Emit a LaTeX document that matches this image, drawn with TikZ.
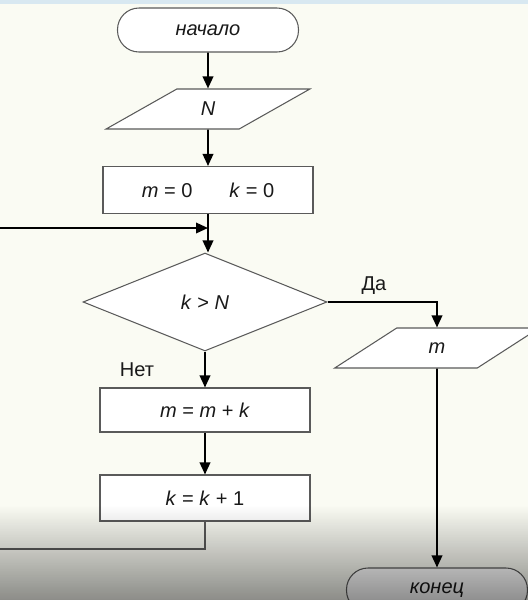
\documentclass[tikz,border=0pt]{standalone}
\usepackage{fontspec}
\setmainfont{Liberation Sans}
\usetikzlibrary{shapes.geometric,arrows.meta,fadings}
\definecolor{bgivory}{RGB}{250,251,243}
\definecolor{stripblue}{RGB}{216,232,241}
\definecolor{edgegray}{RGB}{90,90,90}
\tikzfading[name=fadebottom, top color=transparent!100, bottom color=transparent!0]
\begin{document}
\begin{tikzpicture}[x=0.02cm,y=-0.02cm,
    font=\fontsize{11.4}{13.5}\selectfont,
    fig/.style={draw=edgegray,fill=white,line width=.6pt,inner sep=0pt,text=black!90},
    terminal/.style={fig,rectangle,rounded corners=0.43cm,minimum width=3.62cm,minimum height=0.88cm},
    io/.style={fig,trapezium,trapezium left angle=40,trapezium right angle=140,trapezium stretches=true,minimum width=4.08cm,minimum height=0.8cm},
    block/.style={fig,rectangle,minimum width=4.2cm},
    decision/.style={fig,diamond,minimum width=4.88cm,minimum height=1.96cm},
    arrow/.style={line width=1.1pt,-{Triangle[length=2.4mm,width=2.1mm]}},
    line/.style={draw=edgegray,line width=.6pt},
    lbl/.style={inner sep=0pt,text=black!90}]
    \useasboundingbox (0,0) rectangle (528,600);
    \clip (0,0) rectangle (528,600);
    \fill[bgivory] (0,0) rectangle (528,600);
    \fill[stripblue] (0,0) rectangle (528,4);
    \node[terminal] (start) at (208,30) {\textit{начало}};
    \node[io] (in) at (208,109) {\textit{N}};
    \node[block,minimum height=0.94cm] (init) at (208,190) {\textit{m} = 0\hspace{21pt}\textit{k} = 0};
    \node[decision] (cond) at (205,302) {\textit{k} > \textit{N}};
    \node[block,minimum height=0.88cm] (add) at (205,410) {\textit{m} = \textit{m} + \textit{k}};
    \node[block,minimum height=0.92cm] (inc) at (205,498) {\textit{k} = \textit{k} + 1};
    \node[io,minimum width=4.1cm] (out) at (437,348) {\textit{m}};
    \node[terminal] (stop) at (437,590) {\textit{конец}};
    \node[lbl] (yes) at (374,286) {Да};
    \node[lbl] (no) at (137,370) {Нет};
    \coordinate (back) at (-10,549);
    \coordinate (join) at (208,228);
    \draw[arrow] (start) -- (in);
    \draw[arrow] (in) -- (init);
    \draw[arrow] (init) -- (init |- cond.north);
    \draw[arrow] (cond) -- (add);
    \draw[arrow] (add) -- (inc);
    \draw[arrow] (cond.east) -| (out);
    \draw[arrow] (out) -- (stop);
    \draw[line] (inc) |- (back);
    \draw[arrow] (back) |- (join);
    \fill[black,path fading=fadebottom,fill opacity=0.44] (0,505) rectangle (528,600);
\end{tikzpicture}
\end{document}
